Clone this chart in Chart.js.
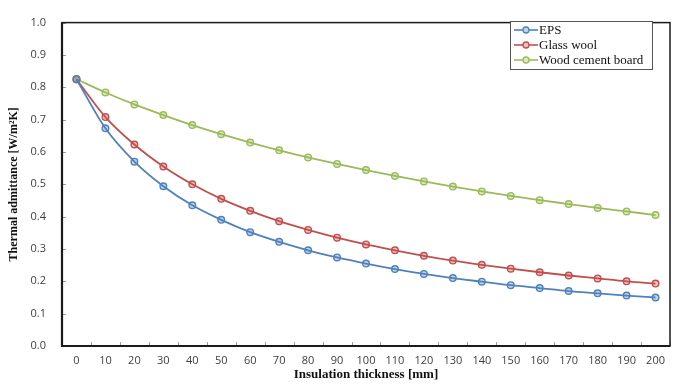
<!DOCTYPE html>
<html lang="en">
<head>
    <meta charset="UTF-8">
    <title>Thermal admittance vs insulation thickness</title>
    <style>
        html, body {
            margin: 0;
            padding: 0;
            background: #ffffff;
        }
        #wrap {
            width: 684px;
            height: 387px;
            position: relative;
        }
    </style>
    <script src="https://cdn.jsdelivr.net/npm/chart.js"></script>
</head>
<body>
    <div id="wrap">
        <canvas id="admChart" width="684" height="387"></canvas>
    </div>

    <script>
        // Datos
        const thickness = ['0', '10', '20', '30', '40', '50', '60', '70', '80', '90', '100',
            '110', '120', '130', '140', '150', '160', '170', '180', '190', '200'];

        const eps = [0.825, 0.673, 0.570, 0.494, 0.435, 0.390, 0.352, 0.322, 0.296, 0.274, 0.255,
            0.238, 0.223, 0.210, 0.199, 0.188, 0.179, 0.170, 0.163, 0.156, 0.150];

        const glassWool = [0.825, 0.708, 0.623, 0.555, 0.500, 0.455, 0.418, 0.386, 0.359, 0.335, 0.314,
            0.296, 0.279, 0.264, 0.251, 0.239, 0.228, 0.218, 0.209, 0.200, 0.193];

        const woodCement = [0.825, 0.784, 0.747, 0.714, 0.683, 0.655, 0.629, 0.605, 0.583, 0.563, 0.544,
            0.526, 0.509, 0.493, 0.478, 0.464, 0.451, 0.439, 0.427, 0.416, 0.405];

        const seriesNames = ['EPS', 'Glass wool', 'Wood cement board'];
        const yTicks = [0, 0.1, 0.2, 0.3, 0.4, 0.5, 0.6, 0.7, 0.8, 0.9, 1.0];

        const colors = ['#4f81bd', '#c0504d', '#9bbb59'];
        const fills = ['rgba(79,129,189,0.35)', 'rgba(192,80,77,0.35)', 'rgba(155,187,89,0.35)'];

        function makeSet(i, data) {
            return {
                label: seriesNames[i],
                data: data,
                borderColor: colors[i],
                backgroundColor: fills[i],
                borderWidth: 1.8,
                pointRadius: 3.3,
                pointBorderWidth: 1.4,
                pointBackgroundColor: fills[i],
                pointBorderColor: colors[i],
                cubicInterpolationMode: 'monotone',
                fill: false
            };
        }

        // Marco, marcas interiores y leyenda con borde
        const framePlugin = {
            id: 'frame',
            afterDraw(chart) {
                const ctx = chart.ctx;
                const a = chart.chartArea;
                const xs = chart.scales.x;
                const ys = chart.scales.y;
                ctx.save();

                // marcas pequeñas hacia dentro
                ctx.strokeStyle = '#9a9a9a';
                ctx.lineWidth = 1;
                ctx.beginPath();
                yTicks.forEach(v => {
                    const py = Math.round(ys.getPixelForValue(v)) + 0.5;
                    ctx.moveTo(a.left, py);
                    ctx.lineTo(a.left + 4, py);
                });
                for (let i = 0; i <= thickness.length; i++) {
                    const px = Math.round(a.left + (a.right - a.left) * i / thickness.length) + 0.5;
                    ctx.moveTo(px, a.bottom);
                    ctx.lineTo(px, a.bottom - 4);
                }
                ctx.stroke();

                // borde del area
                ctx.strokeStyle = '#1a1a1a';
                ctx.lineWidth = 1.5;
                ctx.strokeRect(a.left, a.top, a.right - a.left, a.bottom - a.top);
                ctx.lineWidth = 2.2;
                ctx.beginPath();
                ctx.moveTo(a.left, a.top);
                ctx.lineTo(a.left, a.bottom);
                ctx.lineTo(a.right, a.bottom);
                ctx.stroke();

                // leyenda
                const bx = 510, by = 21, bw = 142, bh = 48;
                ctx.fillStyle = '#ffffff';
                ctx.fillRect(bx, by, bw, bh);
                ctx.strokeStyle = '#555555';
                ctx.lineWidth = 1;
                ctx.strokeRect(bx + 0.5, by + 0.5, bw, bh);
                ctx.font = '13px "Liberation Serif", "Times New Roman", serif';
                ctx.textBaseline = 'middle';
                chart.data.datasets.forEach((ds, i) => {
                    const ly = by + 9 + i * 15;
                    ctx.strokeStyle = ds.borderColor;
                    ctx.lineWidth = 1.6;
                    ctx.beginPath();
                    ctx.moveTo(bx + 4, ly);
                    ctx.lineTo(bx + 28, ly);
                    ctx.stroke();
                    ctx.beginPath();
                    ctx.arc(bx + 16, ly, 3, 0, Math.PI * 2);
                    ctx.fillStyle = '#ffffff';
                    ctx.fill();
                    ctx.fillStyle = ds.backgroundColor;
                    ctx.fill();
                    ctx.lineWidth = 1.3;
                    ctx.stroke();
                    ctx.fillStyle = '#111111';
                    ctx.fillText(ds.label, bx + 29, ly + 1);
                });
                ctx.restore();
            }
        };

        const ctx = document.getElementById('admChart').getContext('2d');
        new Chart(ctx, {
            type: 'line',
            data: {
                labels: thickness,
                datasets: [makeSet(0, eps), makeSet(1, glassWool), makeSet(2, woodCement)]
            },
            options: {
                responsive: false,
                animation: false,
                layout: {
                    padding: { left: 0, right: 14, top: 15, bottom: 0 }
                },
                plugins: {
                    legend: { display: false },
                    tooltip: { enabled: false }
                },
                scales: {
                    x: {
                        type: 'category',
                        offset: true,
                        grid: { display: false, drawTicks: false },
                        border: { display: false },
                        ticks: {
                            padding: 8,
                            maxRotation: 0,
                            autoSkip: false,
                            color: '#404040',
                            font: { family: '"Open Sans", sans-serif', size: 11 }
                        },
                        title: {
                            display: true,
                            text: 'Insulation thickness [mm]',
                            color: '#111111',
                            padding: { top: 4, bottom: 5 },
                            font: { family: '"Liberation Serif", serif', size: 13, weight: 'bold' }
                        },
                        afterFit(scale) { scale.height = 41; }
                    },
                    y: {
                        min: 0,
                        max: 1,
                        afterBuildTicks(scale) {
                            scale.ticks = yTicks.map(v => ({ value: v }));
                        },
                        grid: { display: false, drawTicks: false },
                        border: { display: false },
                        ticks: {
                            padding: 16,
                            color: '#404040',
                            font: { family: '"Open Sans", sans-serif', size: 11 },
                            callback: v => Number(v).toFixed(1)
                        },
                        title: {
                            display: true,
                            text: 'Thermal admittance [W/m²K]',
                            color: '#111111',
                            padding: { top: 7, bottom: 4 },
                            font: { family: '"Liberation Serif", serif', size: 12, weight: 'bold' }
                        },
                        afterFit(scale) { scale.width = 62; }
                    }
                }
            },
            plugins: [framePlugin]
        });
    </script>
</body>
</html>
